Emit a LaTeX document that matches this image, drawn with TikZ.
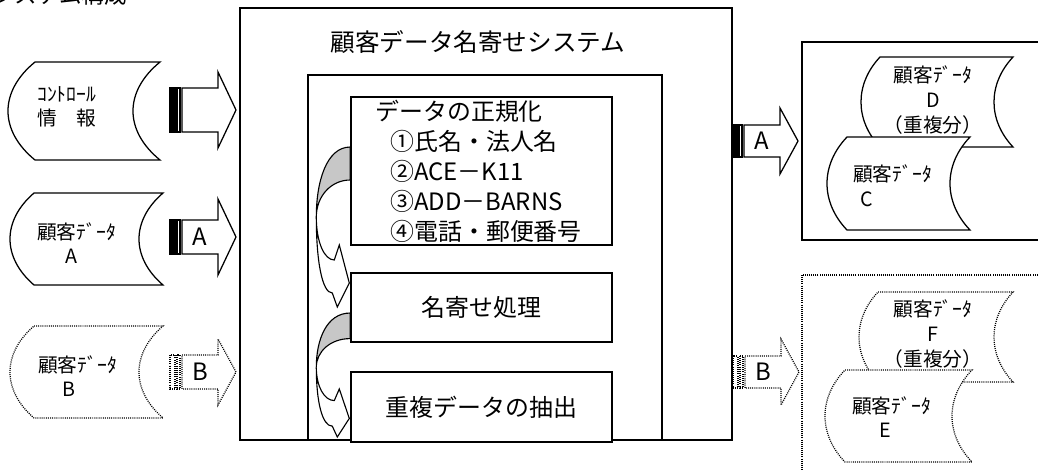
\documentclass[tikz,border=0pt]{standalone}
\usepackage{fontspec}
\setmainfont{Noto Sans CJK JP}
\usepackage{tikz}
\usetikzlibrary{calc,positioning}
\tikzstyle{frame}=[draw, line width=1.4pt]
\tikzstyle{procbox}=[draw, line width=0.95pt, fill=white, minimum width=6.525cm,
  text centered, font=\fontsize{17}{21.3}\selectfont]
\tikzstyle{bigtext}=[inner sep=0pt, font=\fontsize{17.5}{21}\selectfont]
\tikzstyle{datatext}=[anchor=west, align=left, inner sep=0pt,
  font=\fontsize{14}{17.5}\selectfont]
\tikzstyle{arrowtext}=[inner sep=0pt, font=\fontsize{17}{20}\selectfont]
\tikzstyle{solidline}=[solid, line width=0.9pt]
\tikzstyle{dotline}=[line width=0.9pt, dash pattern=on 0.7pt off 0.8pt]
\tikzstyle{stripesolidline}=[fill=black]
\tikzstyle{stripedotline}=[fill=white]
\tikzstyle{bendline}=[draw, line width=0.8pt]
% stored data symbol: style, name, x, y (top left corner), width, height, bulge
\newcommand{\datastore}[7]{%
  \draw[#1, fill=white] (#3,#4) -- ({#3+#5},#4)
    .. controls ({#3+#5-4*#7/3},{#4+0.3*#6}) and ({#3+#5-4*#7/3},{#4+0.7*#6}) ..
    ({#3+#5},{#4+#6}) -- (#3,{#4+#6})
    .. controls ({#3-4*#7/3},{#4+0.7*#6}) and ({#3-4*#7/3},{#4+0.3*#6}) ..
    (#3,#4) -- cycle;
  \coordinate (#2) at ({#3+#5/2},{#4+#6/2});}
% striped block arrow: style, name, x, y, body half height, head half height, label
\newcommand{\flowarrow}[7]{%
  \begin{scope}[shift={(#3,#4)}]
    \draw[#1, stripe#1] (0,-#5) rectangle (5,#5);
    \draw[#1, fill=white] (7,-#5) rectangle (10,#5);
    \draw[#1, fill=white] (12,-#5) -- (48,-#5) -- (48,-#6) -- (66,0)
      -- (48,#6) -- (48,#5) -- (12,#5) -- cycle;
    \node[arrowtext] (#2) at (30,0) {#7};
  \end{scope}}
% curved right arrow between two boxes: start point, vertical scale
\newcommand{\bendarrow}[2]{%
  \begin{scope}[shift={#1}, yscale=#2]
    \draw[bendline, fill=white] (-34,70) .. controls (-34,115) and (-28,146) ..
      (-18,146) -- (-13,160) -- (-1,136) -- (-11,98) -- (-16,113)
      .. controls (-26,113) and (-34,95) .. (-34,70) -- cycle;
    \draw[bendline, fill=black!22] (0,0) .. controls (-24,0) and (-34,35) ..
      (-34,70) .. controls (-34,50) and (-20,33) .. (0,33) -- cycle;
  \end{scope}}

\begin{document}
\begin{tikzpicture}[x=0.025cm, y=-0.025cm]
  \useasboundingbox (0,0) rectangle (1038,470);

  % page heading (cut at the top)
  \node[anchor=base west, inner sep=0pt, font=\fontsize{16}{18}\selectfont]
    (heading) at (-8,3) {システム構成};

  % system block area
  \draw[frame] (240,8) rectangle (732,440);
  \node[bigtext] (systitle) at (478,42) {顧客データ名寄せシステム};
  \draw[frame] (308,75) rectangle (662,440);

  \node[procbox, minimum height=3.7cm, align=left, text width=5.3cm,
    inner xsep=0.6cm, inner ysep=0pt] (norm) at (481.5,171)
    {データの正規化\\
     \hspace*{0.375cm}①氏名・法人名\\
     \hspace*{0.375cm}②ACE－K11\\
     \hspace*{0.375cm}③ADD－BARNS\\
     \hspace*{0.375cm}④電話・郵便番号};
  \node[procbox, minimum height=1.725cm] (merge) at (481.5,307.5) {名寄せ処理};
  \node[procbox, minimum height=1.75cm] (extract) at (481.5,407) {重複データの抽出};

  \bendarrow{($(norm.west)+(0,-24)$)}{1}
  \bendarrow{($(merge.west)+(0,5.5)$)}{0.775}

  % input data area
  \datastore{solidline}{ctrl}{35}{62}{125}{98}{27}
  \node[datatext] (ctrltext) at (37,107) {ｺﾝﾄﾛｰﾙ\\情　報};
  \datastore{solidline}{custa}{34}{193}{129}{92}{24}
  \node[datatext] (custatext) at (37,243) {顧客ﾃﾞｰﾀ\\\hspace*{1.45em}A};
  \datastore{dotline}{custb}{34}{326}{129}{92}{24}
  \node[datatext] (custbtext) at (38,376) {顧客ﾃﾞｰﾀ\\\hspace*{1.25em}B};

  \flowarrow{solidline}{ctrlin}{170}{110}{22}{38}{}
  \flowarrow{solidline}{ain}{170}{237}{17}{38}{A}
  \flowarrow{dotline}{bin}{170}{372}{17}{33}{B}

  % output data area
  \flowarrow{solidline}{aout}{732}{141}{16}{33}{A}
  \flowarrow{dotline}{bout}{733}{372}{16}{33}{B}

  \draw[frame] (802,42) rectangle (1042,240);
  \datastore{solidline}{custd}{880}{57}{133}{90}{19}
  \node[datatext, align=center, anchor=center] (custdtext) at (933,100)
    {顧客ﾃﾞｰﾀ\\D\\（重複分）};
  \datastore{solidline}{custc}{847}{137}{123}{93}{20}
  \node[datatext] (custctext) at (853,186) {顧客ﾃﾞｰﾀ\\\hspace*{0.35em}C};

  \draw[dotline] (802,275) rectangle (1045,480);
  \datastore{dotline}{custf}{878}{292}{135}{90}{19}
  \node[datatext, align=center, anchor=center] (custftext) at (933,334)
    {顧客ﾃﾞｰﾀ\\F\\（重複分）};
  \datastore{dotline}{custe}{845}{370}{127}{92}{20}
  \node[datatext] (custetext) at (852,417) {顧客ﾃﾞｰﾀ\\\hspace*{1.4em}E};

\end{tikzpicture}
\end{document}
